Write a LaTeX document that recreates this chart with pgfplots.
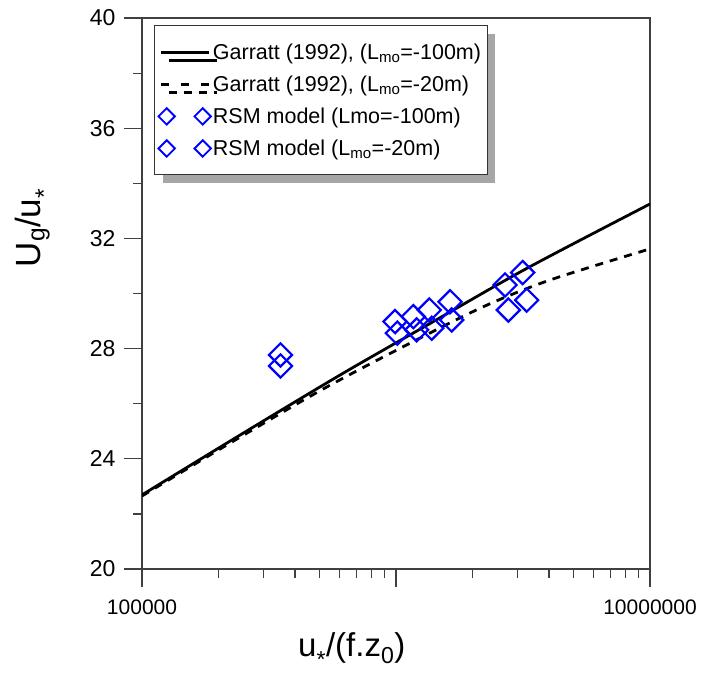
\documentclass[border=0pt]{standalone}
\usepackage{fontspec}
\setmainfont{Liberation Sans}
\usepackage{pgfplots}
\usepackage{pgfplotstable}
\pgfplotsset{compat=1.18}
\usetikzlibrary{shadows}

\newcommand{\ustar}{u\textsubscript{\raisebox{-0.35em}{*}}}

\pgfplotsset{
  lineleg/.style={legend image code/.code={\draw[##1, line width=2.8pt, solid] (0pt,0pt) -- (48pt,0pt);}},
  dashleg/.style={legend image code/.code={\draw[##1, line width=3pt, dash pattern=on 8pt off 12pt] (0pt,0pt) -- (48pt,0pt);}},
  markleg/.style={legend image code/.code={\draw[##1, only marks, mark size=5.8pt,
      mark options={rotate=45, blue, line width=1.9pt}] plot coordinates {(6pt,0pt) (42pt,0pt)};}},
}

% Garratt (1992) curves
\pgfplotstableread{
x y
1e5 22.69
2.43e5 24.86
6.02e5 27.04
1.36e6 28.91
3.27e6 30.91
1e7 33.25
}\garrattA
\pgfplotstableread{
x y
1e5 22.65
2.12e5 24.46
5.02e5 26.47
1.068e6 28.07
2.207e6 29.52
4.04e6 30.49
1e7 31.62
}\garrattB
% RSM model
\pgfplotstableread{
x y
3.51e5 27.77
9.91e5 28.98
1.17e6 29.16
1.352e6 29.40
1.632e6 29.70
2.686e6 30.31
3.153e6 30.76
}\rsmA
\pgfplotstableread{
x y
3.51e5 27.37
1.012e6 28.56
1.206e6 28.68
1.382e6 28.74
1.656e6 29.04
2.768e6 29.40
3.27e6 29.76
}\rsmB

\begin{document}
\begin{tikzpicture}
\begin{axis}[
  xmode=log,
  scale only axis, width=508pt, height=551pt,
  xmin=1e5, xmax=1e7, ymin=20, ymax=40,
  xtick={1e5,1e6,1e7}, xticklabels={100000,,10000000},
  minor xtick={2e5,3e5,4e5,5e5,6e5,7e5,8e5,9e5,2e6,3e6,4e6,5e6,6e6,7e6,8e6,9e6},
  ytick={20,24,...,40}, minor ytick={22,26,...,38},
  xtick pos=bottom, ytick pos=left, tick align=outside,
  major tick length=18pt, minor tick length=9pt,
  axis line style={black!75, line width=1.2pt},
  tick style={black!75, line width=1.2pt},
  /pgf/number format/assume math mode=true,
  xticklabel style={font=\fontsize{21}{25}\selectfont, yshift=-9pt},
  yticklabel style={font=\fontsize{23}{27}\selectfont, xshift=-5pt},
  xlabel={\ustar/(f.z\textsubscript{0})},
  ylabel={U\textsubscript{g}/\ustar},
  xlabel style={font=\fontsize{33}{38}\selectfont, at={(axis description cs:0.413,-0.147)}, anchor=center},
  ylabel style={font=\fontsize{35}{40}\selectfont, at={(axis description cs:-0.2136,0.619)}, anchor=center},
  legend cell align=left,
  legend style={at={(axis description cs:0.0236,0.987)}, anchor=north west,
    draw=black!80, line width=1pt, fill=white,
    font=\fontsize{21.5}{26}\selectfont,
    inner xsep=4pt, inner ysep=16pt, row sep=11pt,
    drop shadow={shadow xshift=8pt, shadow yshift=-8pt, fill=black!35, opacity=1}},
]
\addplot[black, line width=2.8pt, smooth, lineleg] table {\garrattA};
\addlegendentry{Garratt (1992), (L\textsubscript{mo}=-100m)}
\addplot[black, line width=2.8pt, smooth, dash pattern=on 8pt off 7pt, dashleg] table {\garrattB};
\addlegendentry{Garratt (1992), (L\textsubscript{mo}=-20m)}
\addplot[only marks, mark=square, mark size=8.2pt,
  mark options={rotate=45, blue, line width=2.2pt}, markleg] table {\rsmA};
\addlegendentry{RSM model (Lmo=-100m)}
\addplot[only marks, mark=square, mark size=8.2pt,
  mark options={rotate=45, blue, line width=2.2pt}, markleg] table {\rsmB};
\addlegendentry{RSM model (L\textsubscript{mo}=-20m)}
\end{axis}
\pgfresetboundingbox
\useasboundingbox (-142pt,-104pt) rectangle (567pt,569pt);
\end{tikzpicture}
\end{document}
